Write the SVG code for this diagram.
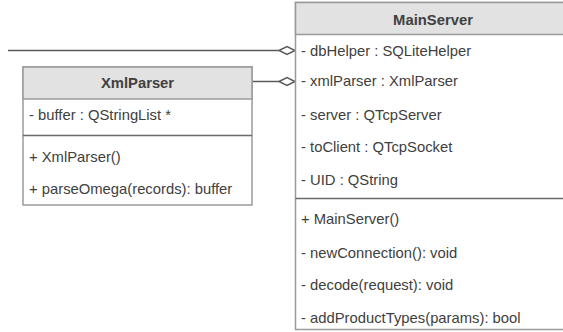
<svg xmlns="http://www.w3.org/2000/svg" width="563" height="332" viewBox="0 0 563 332">
<defs>
<style>
.box{fill:#ffffff;stroke:#9a9a9a;stroke-width:1.5}
.hdr{fill:#e2e2e2;stroke:#9a9a9a;stroke-width:1.5}
.sep{stroke:#6a6a6a;stroke-width:1.5}
.t{font-family:"Liberation Sans",Arial,sans-serif;font-size:14.8px;fill:#404040}
.b{font-weight:bold;text-anchor:middle}
.c{stroke:#5a5a5a;stroke-width:1.5;fill:none}
.d{fill:#ffffff;stroke:#5a5a5a;stroke-width:1.5}
</style>
</defs>
<g id="connectors">
<line class="c" x1="8" y1="50.5" x2="279" y2="50.5"/>
<polygon class="d" points="279,50.5 287,46.5 295,50.5 287,54.5"/>
<line class="c" x1="252" y1="81.5" x2="279" y2="81.5"/>
<polygon class="d" points="279,81.5 287,77.5 295,81.5 287,85.5"/>
</g>
<g id="MainServer">
<rect class="box" x="295.5" y="2.5" width="280" height="327"/>
<rect class="hdr" x="295.5" y="2.5" width="280" height="32"/>
<text class="t b" x="433" y="24.5">MainServer</text>
<text class="t" x="301" y="56">- dbHelper : SQLiteHelper</text>
<text class="t" x="301" y="86">- xmlParser : XmlParser</text>
<text class="t" x="301" y="120">- server : QTcpServer</text>
<text class="t" x="301" y="152">- toClient : QTcpSocket</text>
<text class="t" x="301" y="184.5">- UID : QString</text>
<line class="sep" x1="295.5" y1="198.5" x2="575" y2="198.5"/>
<text class="t" x="301" y="223.5">+ MainServer()</text>
<text class="t" x="301" y="258">- newConnection(): void</text>
<text class="t" x="301" y="289.5">- decode(request): void</text>
<text class="t" x="301" y="323">- addProductTypes(params): bool</text>
</g>
<g id="XmlParser">
<rect class="box" x="23" y="67" width="229" height="138"/>
<rect class="hdr" x="23" y="67" width="229" height="32"/>
<text class="t b" x="137.5" y="88">XmlParser</text>
<text class="t" x="29" y="120">- buffer : QStringList *</text>
<line class="sep" x1="23" y1="135.5" x2="252" y2="135.5"/>
<text class="t" x="29" y="162">+ XmlParser()</text>
<text class="t" x="29" y="194">+ parseOmega(records): buffer</text>
</g>
</svg>
